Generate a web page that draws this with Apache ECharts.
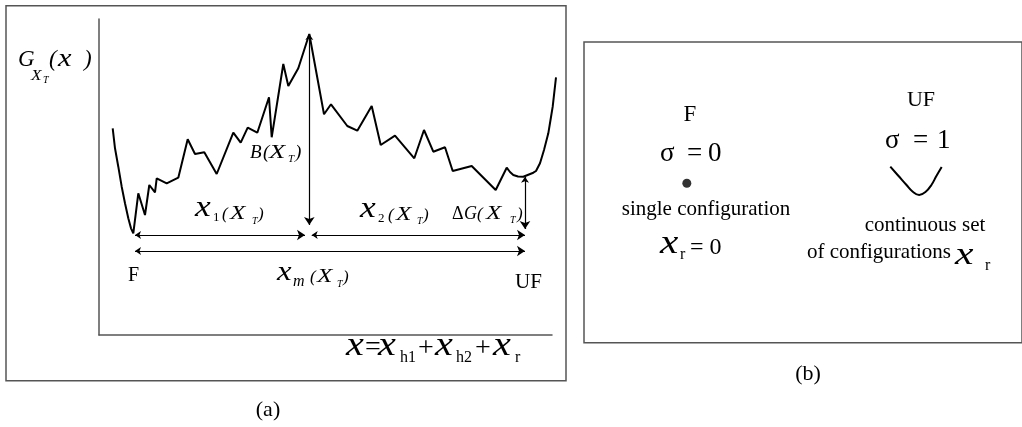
<!DOCTYPE html>
<html><head><meta charset="utf-8">
<script src="https://cdn.jsdelivr.net/npm/echarts@6/dist/echarts.min.js"></script>
<style>html,body{margin:0;padding:0;background:#fff}#c{width:1022px;height:427px}</style>
</head><body><div id="c"></div>
<script>
// ---- Data (units = px offset from the axes origin) ----
const curveX = [13.7,16,19.3,22.7,26,29.3,32,34.3,36,39.3,46,50.3,56,57.7,67.7,79.3,88.7,96,105.3,117.7,134.3,141.7,148.7,158.3,170,172.7,184.3,189.3,199.3,210.3,225,232,248.3,258.3,272.7,281.7,296,315.3,325,334.3,346,353.7,372.7,396.7,407.7,411,414.3,419,424.3,434.3,437,441,445,449.3,452,453.7,457];
const curveY = [206.7,186.7,168.3,148.3,131.7,116.7,106.7,101.7,102,141.7,120,150,142.7,156.7,151.7,157.3,195.7,181,182.7,161,202.3,192.3,207.3,202.3,237.7,197.7,271,249,266.7,301,220.7,230.7,209,204.3,229,190,199.3,176.7,205,183.3,187.7,164,169,145,167.3,163,160,158.5,158.3,162.3,164,171.7,185,201.7,218,228.3,257.7];
// arrows: [x1, y1, x2, y2]
const arrowPeak = [210.3, 301, 210.3, 110];
const arrowX1 = [36, 100, 206, 100];
const arrowX2 = [212.7, 100, 426, 100];
const arrowXm = [36, 84, 426, 84];
const arrowDG = [426, 158.3, 426, 106];
// panel (b)
const dotF = [103.3, 159.4];
const wellX = [307.7, 316, 324, 330, 336.7, 343, 349, 354, 359.3];
const wellY = [176, 166.7, 157.7, 151.2, 147.7, 150.7, 157.7, 166.7, 175.7];

const FF = '"Liberation Serif","Times New Roman",serif';
function T(str, x, base, size, it, align, sx) {
  return {
    type: 'text', z: 100, x: x, y: base - 0.34 * size, scaleX: sx || 1, scaleY: 1,
    style: {
      text: str, x: 0, y: 0,
      font: (it ? 'italic ' : '') + size + 'px ' + FF,
      fill: '#000',
      align: align || 'left', verticalAlign: 'middle',
      textAlign: align || 'left', textVerticalAlign: 'middle'
    }
  };
}
const SX = 1.4, sx = 1.22;
const labels = [
  // G_{X_T}(x )
  T('G', 18, 68, 23, true), T('X', 31, 81, 15, true, null, 1.15), T('T', 43, 84, 10, true),
  T('(', 49, 68, 23, true), T('x', 58, 68, 25, true, null, sx), T(')', 84, 68, 23, true),
  // B(X_T)
  T('B', 250, 159, 19, true), T('(', 263, 159, 19, true), T('X', 269, 159, 19, true, null, SX),
  T('T', 288, 163, 11, true), T(')', 295, 159, 19, true),
  // x_1(X_T)
  T('x', 195, 218, 29, true, null, sx), T('1', 213, 222, 13, false),
  T('(', 222, 220, 17, true), T('X', 230, 220, 18, true, null, SX), T('T', 252, 225, 10, true), T(')', 258, 220, 17, true),
  // x_2(X_T)
  T('x', 360, 219, 29, true, null, sx), T('2', 378, 223, 13, false),
  T('(', 388, 221, 17, true), T('X', 396, 221, 18, true, null, SX), T('T', 417, 225, 10, true), T(')', 423, 221, 17, true),
  // ΔG(X_T)
  T('\u0394', 452, 220, 18, false), T('G', 464, 220, 18, true),
  T('(', 477, 220, 17, true), T('X', 486, 220, 18, true, null, SX), T('T', 510, 224, 10, true), T(')', 517, 220, 17, true),
  // F, x_m(X_T), UF
  T('F', 128, 283, 20, false),
  T('x', 277, 282, 27, true, null, sx), T('m', 293, 287, 16, true),
  T('(', 310, 283, 17, true), T('X', 317, 283, 18, true, null, SX), T('T', 337, 288, 10, true), T(')', 343, 283, 17, true),
  T('UF', 515, 290, 21, false),
  // x = x_h1 + x_h2 + x_r
  T('x', 346, 358, 33, true, null, sx), T('=', 365, 357, 28, false), T('x', 378, 358, 33, true, null, sx), T('h1', 400, 363, 16, false),
  T('+', 418, 358, 28, false), T('x', 435, 358, 33, true, null, sx), T('h2', 456, 363, 16, false),
  T('+', 475, 358, 28, false), T('x', 493, 358, 33, true, null, sx), T('r', 515, 363, 16, false),
  // panel (b)
  T('F', 690, 123, 23, false, 'center'),
  T('\u03c3', 660, 163, 27, false), T('=', 687, 163, 27, false), T('0', 708, 163, 27, false),
  T('single configuration', 706, 217, 21, false, 'center'),
  T('x', 660, 256, 33, true, null, 1.25), T('r', 680, 260, 16, false), T('= 0', 690, 256, 24, false),
  T('UF', 921, 108, 22, false, 'center'),
  T('\u03c3', 885, 150, 27, false), T('=', 913, 150, 27, false), T('1', 937, 150, 27, false),
  T('continuous set', 925, 233, 21, false, 'center'),
  T('of configurations', 879, 260, 21, false, 'center'),
  T('x', 955, 266, 32, true, null, 1.3), T('r', 985, 271, 16, false),
  // captions
  T('(a)', 268, 418, 22, false, 'center'),
  T('(b)', 808, 382, 22, false, 'center')
];

function arrow(a) { return { coords: [[a[0], a[1]], [a[2], a[3]]] }; }
const chart = echarts.init(document.getElementById('c'), null, { renderer: 'canvas' });
const hidden = { show: false };
const plainAxis = { axisLine: { show: true, onZero: false, lineStyle: { color: '#555', width: 1.5 } }, axisTick: { show: false }, axisLabel: { show: false }, splitLine: { show: false } };
chart.setOption({
  animation: false,
  backgroundColor: '#fff',
  grid: [
    { left: 99, top: 19, width: 453, height: 316 },
    { left: 584, top: 42, width: 440, height: 300.7, show: true, borderColor: '#555', borderWidth: 1.5, backgroundColor: 'transparent' },
    // same scale as grid 0 but a little wider, so the curve's right end is not cut at the axis end
    { left: 99, top: 19, width: 463, height: 316 }
  ],
  xAxis: [
    Object.assign({ type: 'value', gridIndex: 0, min: 0, max: 453 }, plainAxis),
    Object.assign({ type: 'value', gridIndex: 1, min: 0, max: 440 }, hidden),
    Object.assign({ type: 'value', gridIndex: 2, min: 0, max: 463 }, hidden)
  ],
  yAxis: [
    Object.assign({ type: 'value', gridIndex: 0, min: 0, max: 316 }, plainAxis),
    Object.assign({ type: 'value', gridIndex: 1, min: 0, max: 300.7 }, hidden),
    Object.assign({ type: 'value', gridIndex: 2, min: 0, max: 316 }, hidden)
  ],
  graphic: [
    { type: 'rect', z: 1, shape: { x: 6, y: 5.7, width: 560, height: 375 }, style: { fill: 'none', stroke: '#555', lineWidth: 1.5 } }
  ].concat(labels),
  series: [
    { type: 'line', xAxisIndex: 2, yAxisIndex: 2, symbol: 'none',
      data: curveX.map((x, i) => [x, curveY[i]]),
      lineStyle: { color: '#000', width: 2 } },
    { type: 'lines', coordinateSystem: 'cartesian2d', xAxisIndex: 0, yAxisIndex: 0,
      symbol: ['arrow', 'arrow'], symbolSize: [6, 8],
      lineStyle: { color: '#000', width: 1.2, opacity: 1 },
      data: [arrowPeak, arrowX1, arrowX2, arrowXm, arrowDG].map(arrow) },
    { type: 'scatter', xAxisIndex: 1, yAxisIndex: 1, symbol: 'circle', symbolSize: 9,
      itemStyle: { color: '#000' }, data: [dotF] },
    { type: 'line', xAxisIndex: 1, yAxisIndex: 1, symbol: 'none', smooth: 0.4,
      data: wellX.map((x, i) => [x, wellY[i]]),
      lineStyle: { color: '#000', width: 2 } }
  ]
});
</script></body></html>
